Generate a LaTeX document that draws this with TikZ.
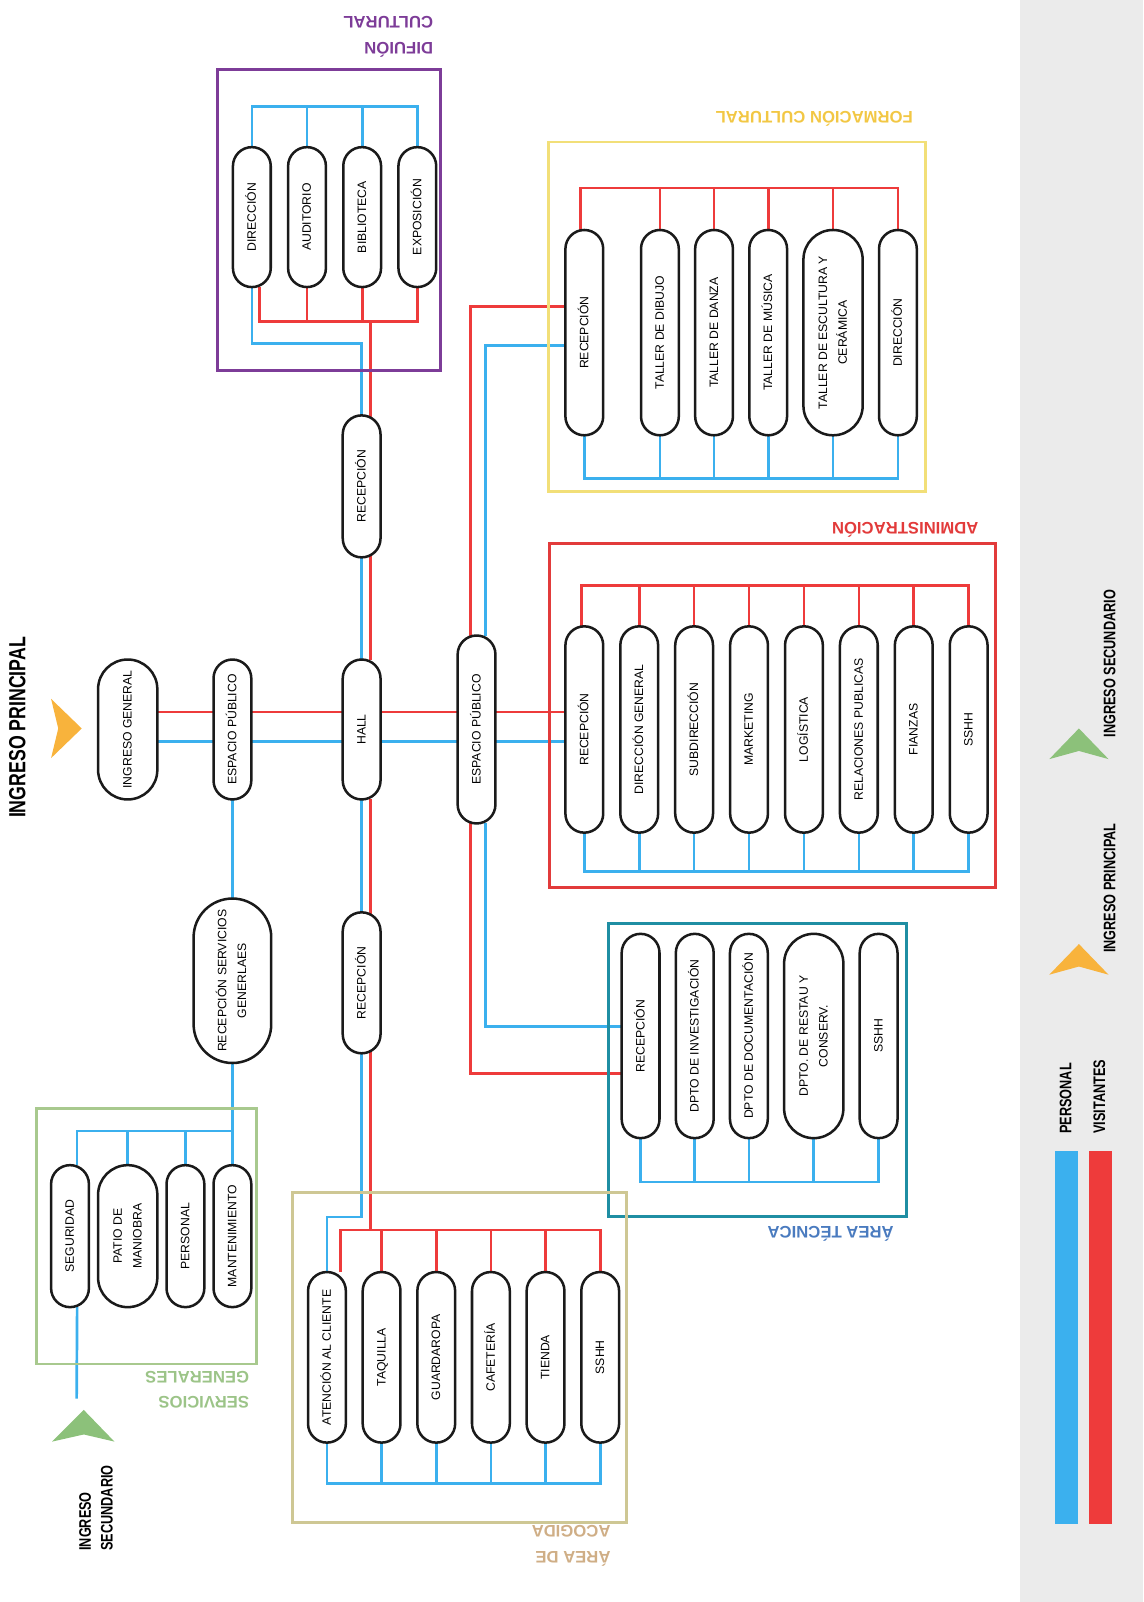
\documentclass[tikz,border=0pt]{standalone}
\usepackage{fontspec}
\setmainfont{Liberation Sans}
\newfontfamily\condfont[FakeStretch=0.76]{Liberation Sans}
\usepackage{tikz}
\usetikzlibrary{positioning, backgrounds, calc}
\usepackage{xcolor}
\definecolor{ink}{HTML}{1A1A1A}
\definecolor{perline}{HTML}{3BB0EE}
\definecolor{visline}{HTML}{EE3B3B}
\definecolor{difc}{HTML}{7D3C98}
\definecolor{formc}{HTML}{F2DF78}
\definecolor{formt}{HTML}{F2C744}
\definecolor{admc}{HTML}{E23B3B}
\definecolor{tecc}{HTML}{1F8EA3}
\definecolor{tect}{HTML}{4A7BBF}
\definecolor{acoc}{HTML}{CEC794}
\definecolor{acot}{HTML}{CFAE86}
\definecolor{serc}{HTML}{A8C98E}
\definecolor{sert}{HTML}{9CC488}
\definecolor{ingp}{HTML}{F8B33C}
\definecolor{ings}{HTML}{8CC17A}
\definecolor{legbg}{HTML}{EBEBEB}
\newcommand{\vtxt}[1]{\rotatebox{90}{\begin{tabular}{@{}c@{}}#1\end{tabular}}}

\begin{document}
\begin{tikzpicture}[
  x=0.02cm, y=-0.02cm,
  node distance=0.335cm,
  room/.style={draw=ink, fill=white, line width=1.4pt, inner sep=1pt, outer sep=0pt,
               minimum width=0.74cm, rounded corners=0.37cm,
               font=\fontsize{6.8}{11}\selectfont},
  wroom/.style={minimum width=1.16cm, rounded corners=0.58cm},
  main/.style={room, minimum height=2.74cm},
  difu/.style={room, minimum height=2.74cm},
  form/.style={room, minimum height=4.02cm},
  admin/.style={room, minimum height=4.04cm},
  tec/.style={room, minimum height=4cm},
  aco/.style={room, minimum height=3.34cm},
  serv/.style={room, minimum height=2.78cm},
  grp/.style={line width=1.6pt},
  ttl/.style={font=\fontsize{9.3}{14}\selectfont\bfseries, rotate=180,
              align=left, inner sep=0pt},
  leg/.style={font=\condfont\fontsize{9.3}{11}\selectfont\bfseries,
              rotate=90, anchor=west, inner sep=0pt},
  per/.style={draw=perline, line width=1.5pt},
  vis/.style={draw=visline, line width=1.5pt}
]
\useasboundingbox (0,0) rectangle (1119,1568);

% legend panel
\fill[legbg] (998,0) rectangle (1119,1568);

% group frames
\draw[grp, difc] (213,68) rectangle (431,363);
\draw[grp, formc] (537,139) rectangle (906,481);
\draw[grp, admc] (538,532) rectangle (974,869);
\draw[grp, tecc] (596,904) rectangle (887,1191);
\draw[grp, acoc] (286,1167) rectangle (613,1490);
\draw[grp, serc] (36,1085) rectangle (251,1335);

% main row
\node[main, wroom] (ingGen) at (125,714) {\vtxt{INGRESO GENERAL}};
\node[main, right=1.1cm of ingGen] (espPub1) {\vtxt{ESPACIO PÚBLICO}};
\node[main, right=1.79cm of espPub1] (hall) {\vtxt{HALL}};
\node[main, minimum height=3.68cm, right=1.51cm of hall] (espPub2) {\vtxt{ESPACIO PÚBLICO}};
\node[room, minimum height=2.78cm, above=2cm of hall] (recDif) {\vtxt{RECEPCIÓN}};
\node[room, minimum height=2.76cm, below=2.21cm of hall] (recInf) {\vtxt{RECEPCIÓN}};
\node[room, minimum height=3.22cm, minimum width=1.52cm, rounded corners=0.76cm,
      below=1.94cm of espPub1] (recSG) {\vtxt{RECEPCIÓN SERVICIOS\\GENERLAES}};

% difusion cultural
\node[difu] (dif1) at (246.5,212.5) {\vtxt{DIRECCIÓN}};
\node[difu, right=0.34cm of dif1] (dif2) {\vtxt{AUDITORIO}};
\node[difu, right=0.34cm of dif2] (dif3) {\vtxt{BIBLIOTECA}};
\node[difu, right=0.34cm of dif3] (dif4) {\vtxt{EXPOSICIÓN}};

% administracion
\node[admin, right=1.37cm of espPub2] (adm1) {\vtxt{RECEPCIÓN}};
\node[admin, right=of adm1] (adm2) {\vtxt{DIRECCIÓN GENERAL}};
\node[admin, right=of adm2] (adm3) {\vtxt{SUBDIRECCIÓN}};
\node[admin, right=of adm3] (adm4) {\vtxt{MARKETING}};
\node[admin, right=of adm4] (adm5) {\vtxt{LOGÍSTICA}};
\node[admin, right=of adm5] (adm6) {\vtxt{RELACIONES PUBLICAS}};
\node[admin, right=of adm6] (adm7) {\vtxt{FIANZAS}};
\node[admin, right=of adm7] (adm8) {\vtxt{SSHH}};

% formacion cultural
\node[form, above=3.74cm of adm1] (form1) {\vtxt{RECEPCIÓN}};
\node[form, right=0.74cm of form1] (form2) {\vtxt{TALLER DE DIBUJO}};
\node[form, right=0.32cm of form2] (form3) {\vtxt{TALLER DE DANZA}};
\node[form, right=0.32cm of form3] (form4) {\vtxt{TALLER DE MÚSICA}};
\node[form, wroom, right=0.32cm of form4] (form5) {\vtxt{TALLER DE ESCULTURA Y\\CERÁMICA}};
\node[form, right=0.32cm of form5] (form6) {\vtxt{DIRECCIÓN}};

% area tecnica
\node[tec] (tec1) at (627,1014) {\vtxt{RECEPCIÓN}};
\node[tec, right=0.32cm of tec1] (tec2) {\vtxt{DPTO DE INVESTIGACIÓN}};
\node[tec, right=0.32cm of tec2] (tec3) {\vtxt{DPTO DE DOCUMENTACIÓN}};
\node[tec, wroom, right=0.32cm of tec3] (tec4) {\vtxt{DPTO. DE RESTAU Y\\CONSERV.}};
\node[tec, right=0.32cm of tec4] (tec5) {\vtxt{SSHH}};

% area de acogida
\node[aco] (aco1) at (320,1328.5) {\vtxt{ATENCIÓN AL CLIENTE}};
\node[aco, right=0.33cm of aco1] (aco2) {\vtxt{TAQUILLA}};
\node[aco, right=0.33cm of aco2] (aco3) {\vtxt{GUARDAROPA}};
\node[aco, right=0.33cm of aco3] (aco4) {\vtxt{CAFETERÍA}};
\node[aco, right=0.33cm of aco4] (aco5) {\vtxt{TIENDA}};
\node[aco, right=0.33cm of aco5] (aco6) {\vtxt{SSHH}};

% servicios generales
\node[serv, below=2cm of recSG] (ser4) {\vtxt{MANTENIMIENTO}};
\node[serv, left=0.18cm of ser4] (ser3) {\vtxt{PERSONAL}};
\node[serv, wroom, left=0.18cm of ser3] (ser2) {\vtxt{PATIO DE\\MANIOBRA}};
\node[serv, left=0.18cm of ser2] (ser1) {\vtxt{SEGURIDAD}};

% titles
\node[ttl, text=difc] (difTtl) at (380,36) {DIFUIÓN\\CULTURAL};
\node[ttl, text=formt] (formTtl) at (797,116) {FORMACIÓN CULTURAL};
\node[ttl, text=admc] (admTtl) at (886,519) {ADMINISTRACIÓN};
\node[ttl, text=tect] (tecTtl) at (813,1208) {ÁREA TÉCNICA};
\node[ttl, text=acot] (acoTtl) at (559,1513) {ÁREA DE\\ACOGIDA};
\node[ttl, text=sert] (serTtl) at (193,1360) {SERVICIOS\\GENERALES};

% entrances
\node[font=\condfont\fontsize{13}{15}\selectfont\bfseries, rotate=90, inner sep=0pt]
  (ingPLbl) at (17,712) {INGRESO PRINCIPAL};
\fill[ingp] (50,684) -- (80,713) -- (50,742) -- (57,713) -- cycle;
\node[font=\condfont\fontsize{9.3}{12.2}\selectfont\bfseries, rotate=90, align=left, inner sep=0pt]
  (ingSLbl) at (94,1476) {INGRESO\\SECUNDARIO};
\fill[ings] (82,1380) -- (112,1411) -- (82,1404) -- (51,1411) -- cycle;
\coordinate (secTip) at (75,1369);

% legend
\fill[ings] (1056,713) -- (1085,743) -- (1056,735) -- (1027,743) -- cycle;
\node[leg] (legSec) at (1086,722) {INGRESO SECUNDARIO};
\fill[ingp] (1056,924) -- (1085,954) -- (1056,946) -- (1027,954) -- cycle;
\node[leg] (legPri) at (1086,933) {INGRESO PRINCIPAL};
\node[leg] (legPer) at (1043,1110) {PERSONAL};
\node[leg] (legVis) at (1076,1110) {VISITANTES};
\fill[perline] (1033,1127) rectangle (1055,1492);
\fill[visline] (1066,1127) rectangle (1088,1492);

% edges
\begin{scope}[on background layer]
  % main axis
  \draw[vis] ([yshift=0.34cm]ingGen.east) -- ([yshift=0.34cm]adm1.west);
  \draw[per] ([yshift=-0.24cm]ingGen.east) -- ([yshift=-0.24cm]adm1.west);

  % spine to difusion
  \coordinate (difRed) at ([yshift=-0.68cm]dif3.south);
  \coordinate (difBlue) at ([yshift=-1.1cm]dif1.south);
  \draw[vis] ([xshift=0.17cm]hall.north) -- ([xshift=0.17cm]hall.north |- difRed);
  \draw[per] (hall.north) |- (difBlue) -- (dif1.south);
  \draw[per] (dif1.north) -- ++(0,0.8cm) -| (dif4.north)
    (dif2.north) -- ++(0,0.8cm) (dif3.north) -- ++(0,0.8cm);
  \draw[vis] ([xshift=0.15cm]dif1.south) -- ++(0,-0.68cm) -| (dif4.south)
    (dif2.south) -- ++(0,-0.68cm) (dif3.south) -- ++(0,-0.68cm);

  % formacion cultural
  \draw[vis] ([xshift=-0.12cm]espPub2.north) |- ([yshift=0.51cm]form1.west);
  \draw[per] ([xshift=0.18cm]espPub2.north) |- ([yshift=-0.25cm]form1.west);
  \draw[vis] ([xshift=-0.07cm]form1.north) -- ++(0,0.82cm) -| (form6.north)
    (form2.north) -- ++(0,0.82cm) (form3.north) -- ++(0,0.82cm)
    (form4.north) -- ++(0,0.82cm) (form5.north) -- ++(0,0.82cm);
  \draw[per] (form1.south) -- ++(0,-0.84cm) -| (form6.south)
    (form2.south) -- ++(0,-0.84cm) (form3.south) -- ++(0,-0.84cm)
    (form4.south) -- ++(0,-0.84cm) (form5.south) -- ++(0,-0.84cm);

  % administracion
  \draw[vis] ([xshift=-0.05cm]adm1.north) -- ++(0,0.8cm) -| (adm8.north)
    (adm2.north) -- ++(0,0.8cm) (adm3.north) -- ++(0,0.8cm)
    (adm4.north) -- ++(0,0.8cm) (adm5.north) -- ++(0,0.8cm)
    (adm6.north) -- ++(0,0.8cm) (adm7.north) -- ++(0,0.8cm);
  \draw[per] (adm1.south) -- ++(0,-0.76cm) -| (adm8.south)
    (adm2.south) -- ++(0,-0.76cm) (adm3.south) -- ++(0,-0.76cm)
    (adm4.south) -- ++(0,-0.76cm) (adm5.south) -- ++(0,-0.76cm)
    (adm6.south) -- ++(0,-0.76cm) (adm7.south) -- ++(0,-0.76cm);

  % area tecnica
  \draw[vis] ([xshift=-0.12cm]espPub2.south) |- ([yshift=-0.74cm]tec1.west);
  \draw[per] ([xshift=0.18cm]espPub2.south) |- ([yshift=0.18cm]tec1.west);
  \draw[per] (tec1.south) -- ++(0,-0.86cm) -| (tec5.south)
    (tec2.south) -- ++(0,-0.86cm) (tec3.south) -- ++(0,-0.86cm)
    (tec4.south) -- ++(0,-0.86cm);

  % spine to acogida
  \coordinate (acoRed) at ([xshift=0.26cm, yshift=0.82cm]aco1.north);
  \coordinate (acoBlue) at ([yshift=1.08cm]aco1.north);
  \draw[vis] ([xshift=0.17cm]hall.south) -- ([xshift=0.17cm]hall.south |- acoRed);
  \draw[per] (hall.south) |- (acoBlue) -- (aco1.north);
  \draw[vis] ([xshift=0.26cm]aco1.north) -- (acoRed) -| (aco6.north)
    (aco2.north) -- ++(0,0.82cm) (aco3.north) -- ++(0,0.82cm)
    (aco4.north) -- ++(0,0.82cm) (aco5.north) -- ++(0,0.82cm);
  \draw[per] (aco1.south) -- ++(0,-0.8cm) -| (aco6.south)
    (aco2.south) -- ++(0,-0.8cm) (aco3.south) -- ++(0,-0.8cm)
    (aco4.south) -- ++(0,-0.8cm) (aco5.south) -- ++(0,-0.8cm);

  % servicios generales
  \draw[per] (espPub1) -- (recSG) -- (ser4);
  \draw[per] ([xshift=0.14cm]ser1.north) -- ++(0,0.67cm) -| (ser4.north)
    (ser2.north) -- ++(0,0.67cm) (ser3.north) -- ++(0,0.67cm);
  \draw[per] ([xshift=0.14cm]ser1.south) -- (secTip);
\end{scope}

\end{tikzpicture}
\end{document}
